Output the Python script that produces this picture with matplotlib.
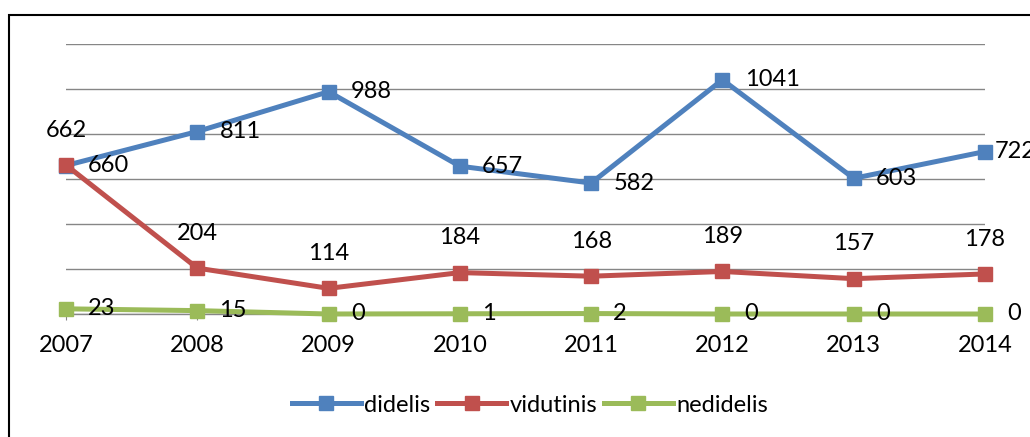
import matplotlib
matplotlib.use("Agg")
import matplotlib.pyplot as plt
from matplotlib.patches import Rectangle

years = [2007, 2008, 2009, 2010, 2011, 2012, 2013, 2014]
didelis = [660, 811, 988, 657, 582, 1041, 603, 722]
vidutinis = [662, 204, 114, 184, 168, 189, 157, 178]
nedidelis = [23, 15, 0, 1, 2, 0, 0, 0]
series_names = ["didelis", "vidutinis", "nedidelis"]
colors = ["#4F81BD", "#C0504D", "#9BBB59"]
label_pos = ["right", "above", "right"]

plt.rcParams['font.family'] = ['Lato', 'DejaVu Sans']
W, H = 1030, 437
fig = plt.figure(figsize=(W / 100, H / 100), dpi=100)
ax = fig.add_axes([66 / W, 1 - 314 / H, (985 - 66) / W, (314 - 44) / H])

fs = 17
for si, (name, vals, c, pos) in enumerate(zip(series_names, [didelis, vidutinis, nedidelis], colors, label_pos)):
    ax.plot(years, vals, color=c, lw=3.6, marker='s', markersize=10.5,
            label=name, clip_on=False, zorder=3, solid_joinstyle='miter')
    for i, (x, v) in enumerate(zip(years, vals)):
        if pos == "right":
            dx = 7 if (si == 0 and i == len(years) - 1) else 16
            ax.annotate(str(v), (x, v), xytext=(dx, 0), textcoords='offset points',
                        ha='left', va='center', fontsize=fs, color='black', zorder=5,
                        annotation_clip=False)
        else:
            ax.annotate(str(v), (x, v), xytext=(0, 25), textcoords='offset points',
                        ha='center', va='center', fontsize=fs, color='black', zorder=5,
                        annotation_clip=False)

ax.set_xlim(2007, 2014)
ax.set_ylim(0, 1200)
ax.set_yticks(range(0, 1201, 200))
ax.yaxis.grid(True, color='#868686', lw=1.0)
ax.set_axisbelow(True)
ax.tick_params(axis='y', left=False, labelleft=False)
ax.set_xticks(years)
ax.set_xticklabels([str(y) for y in years], fontsize=fs)
ax.tick_params(axis='x', direction='out', length=4, color='#868686', pad=11)
for s in ['top', 'right', 'left']:
    ax.spines[s].set_visible(False)
ax.spines['bottom'].set_color('#868686')
ax.spines['bottom'].set_linewidth(1.0)

fig.legend(loc='center', bbox_to_anchor=(530 / W, 1 - 405 / H), ncol=3, frameon=False,
           fontsize=fs, handlelength=2.9, handletextpad=0.15, columnspacing=0.3,
           handleheight=0.7)

fig.patches.append(Rectangle((9 / W, -0.1), 1.2, 1 - 15 / H + 0.1, transform=fig.transFigure,
                             fill=False, edgecolor='black', lw=1.5))

fig.savefig("out.png", dpi=100)
